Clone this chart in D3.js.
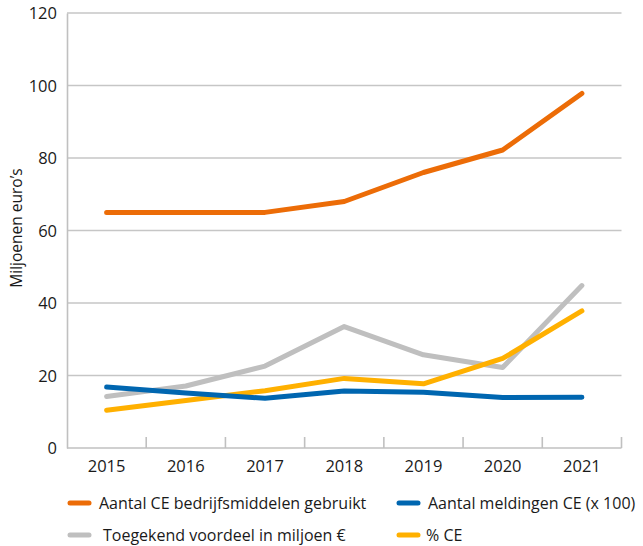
<!DOCTYPE html>
<html>
<head>
<meta charset="utf-8">
<script src="https://cdn.jsdelivr.net/npm/d3@7"></script>
<style>
  body { margin: 0; background: #fff; }
  text { font-family: "Open Sans", sans-serif; fill: #1a1a1a; }
</style>
</head>
<body>
<div id="chart"></div>
<script>
// data
var years = ["2015", "2016", "2017", "2018", "2019", "2020", "2021"];
var bedrijfsmiddelen = [65, 65, 65, 68, 76, 82.2, 97.8];
var meldingen = [16.8, 15.2, 13.7, 15.7, 15.4, 13.9, 14.0];
var voordeel = [14.2, 17.1, 22.6, 33.5, 25.7, 22.2, 44.8];
var procentCE = [10.4, 13.1, 15.8, 19.2, 17.7, 24.7, 37.8];
var yTicks = [0, 20, 40, 60, 80, 100, 120];

var series = [
  { name: "Aantal CE bedrijfsmiddelen gebruikt", values: bedrijfsmiddelen, color: "#ec6c07" },
  { name: "Aantal meldingen CE (x 100)", values: meldingen, color: "#0066b0" },
  { name: "Toegekend voordeel in miljoen \u20ac", values: voordeel, color: "#bfbfbf" },
  { name: "% CE", values: procentCE, color: "#ffb000" }
];

var svgWidth = 643;
var svgHeight = 546;

var plot = { left: 67, right: 621.5, top: 13, bottom: 448 };

var svg = d3.select("#chart")
  .append("svg")
  .attr("width", svgWidth)
  .attr("height", svgHeight);

var x = d3.scalePoint().domain(years).range([plot.left, plot.right]).padding(0.5);
var xBand = d3.scaleBand().domain(years).range([plot.left, plot.right]);
var y = d3.scaleLinear().domain([0, 120]).range([plot.bottom, plot.top]);

// gridlines
svg.append("g")
  .selectAll("line")
  .data(yTicks.filter(d => d > 0))
  .enter()
  .append("line")
  .attr("x1", plot.left)
  .attr("x2", plot.right)
  .attr("y1", d => y(d))
  .attr("y2", d => y(d))
  .attr("stroke", "#c6c6c6")
  .attr("stroke-width", 1.3);

// y axis
var leftAxis = d3.axisLeft(y).tickValues(yTicks).tickSize(0).tickPadding(10);
var yAxis = svg.append("g")
  .attr("transform", `translate(${plot.left}, 0)`)
  .call(leftAxis);
yAxis.select(".domain").attr("stroke", "#c0c0c0").attr("stroke-width", 1.6);
yAxis.selectAll("text")
  .attr("font-size", 16.5)
  .attr("font-family", "Open Sans, sans-serif")
  .attr("fill", "#1a1a1a")
  .attr("dy", "0.36em");

// x axis line + ticks at band edges
svg.append("line")
  .attr("x1", plot.left).attr("x2", plot.right)
  .attr("y1", plot.bottom).attr("y2", plot.bottom)
  .attr("stroke", "#c0c0c0").attr("stroke-width", 1.6);

var edges = years.map(d => xBand(d)).slice(1).concat([xBand(years[years.length - 1]) + xBand.bandwidth()]);
svg.append("g")
  .selectAll("line")
  .data(edges)
  .enter()
  .append("line")
  .attr("x1", d => d).attr("x2", d => d)
  .attr("y1", plot.bottom).attr("y2", plot.bottom - 11)
  .attr("stroke", "#c0c0c0").attr("stroke-width", 1.6);

svg.append("g")
  .selectAll("text")
  .data(years)
  .enter()
  .append("text")
  .attr("x", d => x(d))
  .attr("y", 472)
  .attr("text-anchor", "middle")
  .attr("font-size", 16.5)
  .text(d => d);

// y title
svg.append("text")
  .attr("transform", "translate(22, 228) rotate(-90)")
  .attr("text-anchor", "middle")
  .attr("font-size", 15.5)
  .text("Miljoenen euro\u2019s");

// lines
var line = d3.line()
  .x((d, i) => x(years[i]))
  .y(d => y(d));

svg.append("g")
  .selectAll("path")
  .data([series[0], series[2], series[3], series[1]])
  .enter()
  .append("path")
  .attr("d", d => line(d.values))
  .attr("fill", "none")
  .attr("stroke", d => d.color)
  .attr("stroke-width", 5)
  .attr("stroke-linecap", "round")
  .attr("stroke-linejoin", "round");

// legend
var legendPos = [
  { x: 68, y: 503 },
  { x: 397, y: 503 },
  { x: 68, y: 535 },
  { x: 397, y: 535 }
];

var legend = svg.append("g")
  .selectAll("g")
  .data(series)
  .enter()
  .append("g")
  .attr("transform", (d, i) => `translate(${legendPos[i].x}, ${legendPos[i].y})`);

legend.append("line")
  .attr("x1", 2).attr("x2", 21)
  .attr("y1", 0).attr("y2", 0)
  .attr("stroke", d => d.color)
  .attr("stroke-width", 5)
  .attr("stroke-linecap", "round");

legend.append("text")
  .attr("x", (d, i) => i === 2 ? 35 : (i === 3 ? 29 : 31))
  .attr("y", 0)
  .attr("dy", "0.36em")
  .attr("font-size", 16)
  .text(d => d.name);
</script>
</body>
</html>
